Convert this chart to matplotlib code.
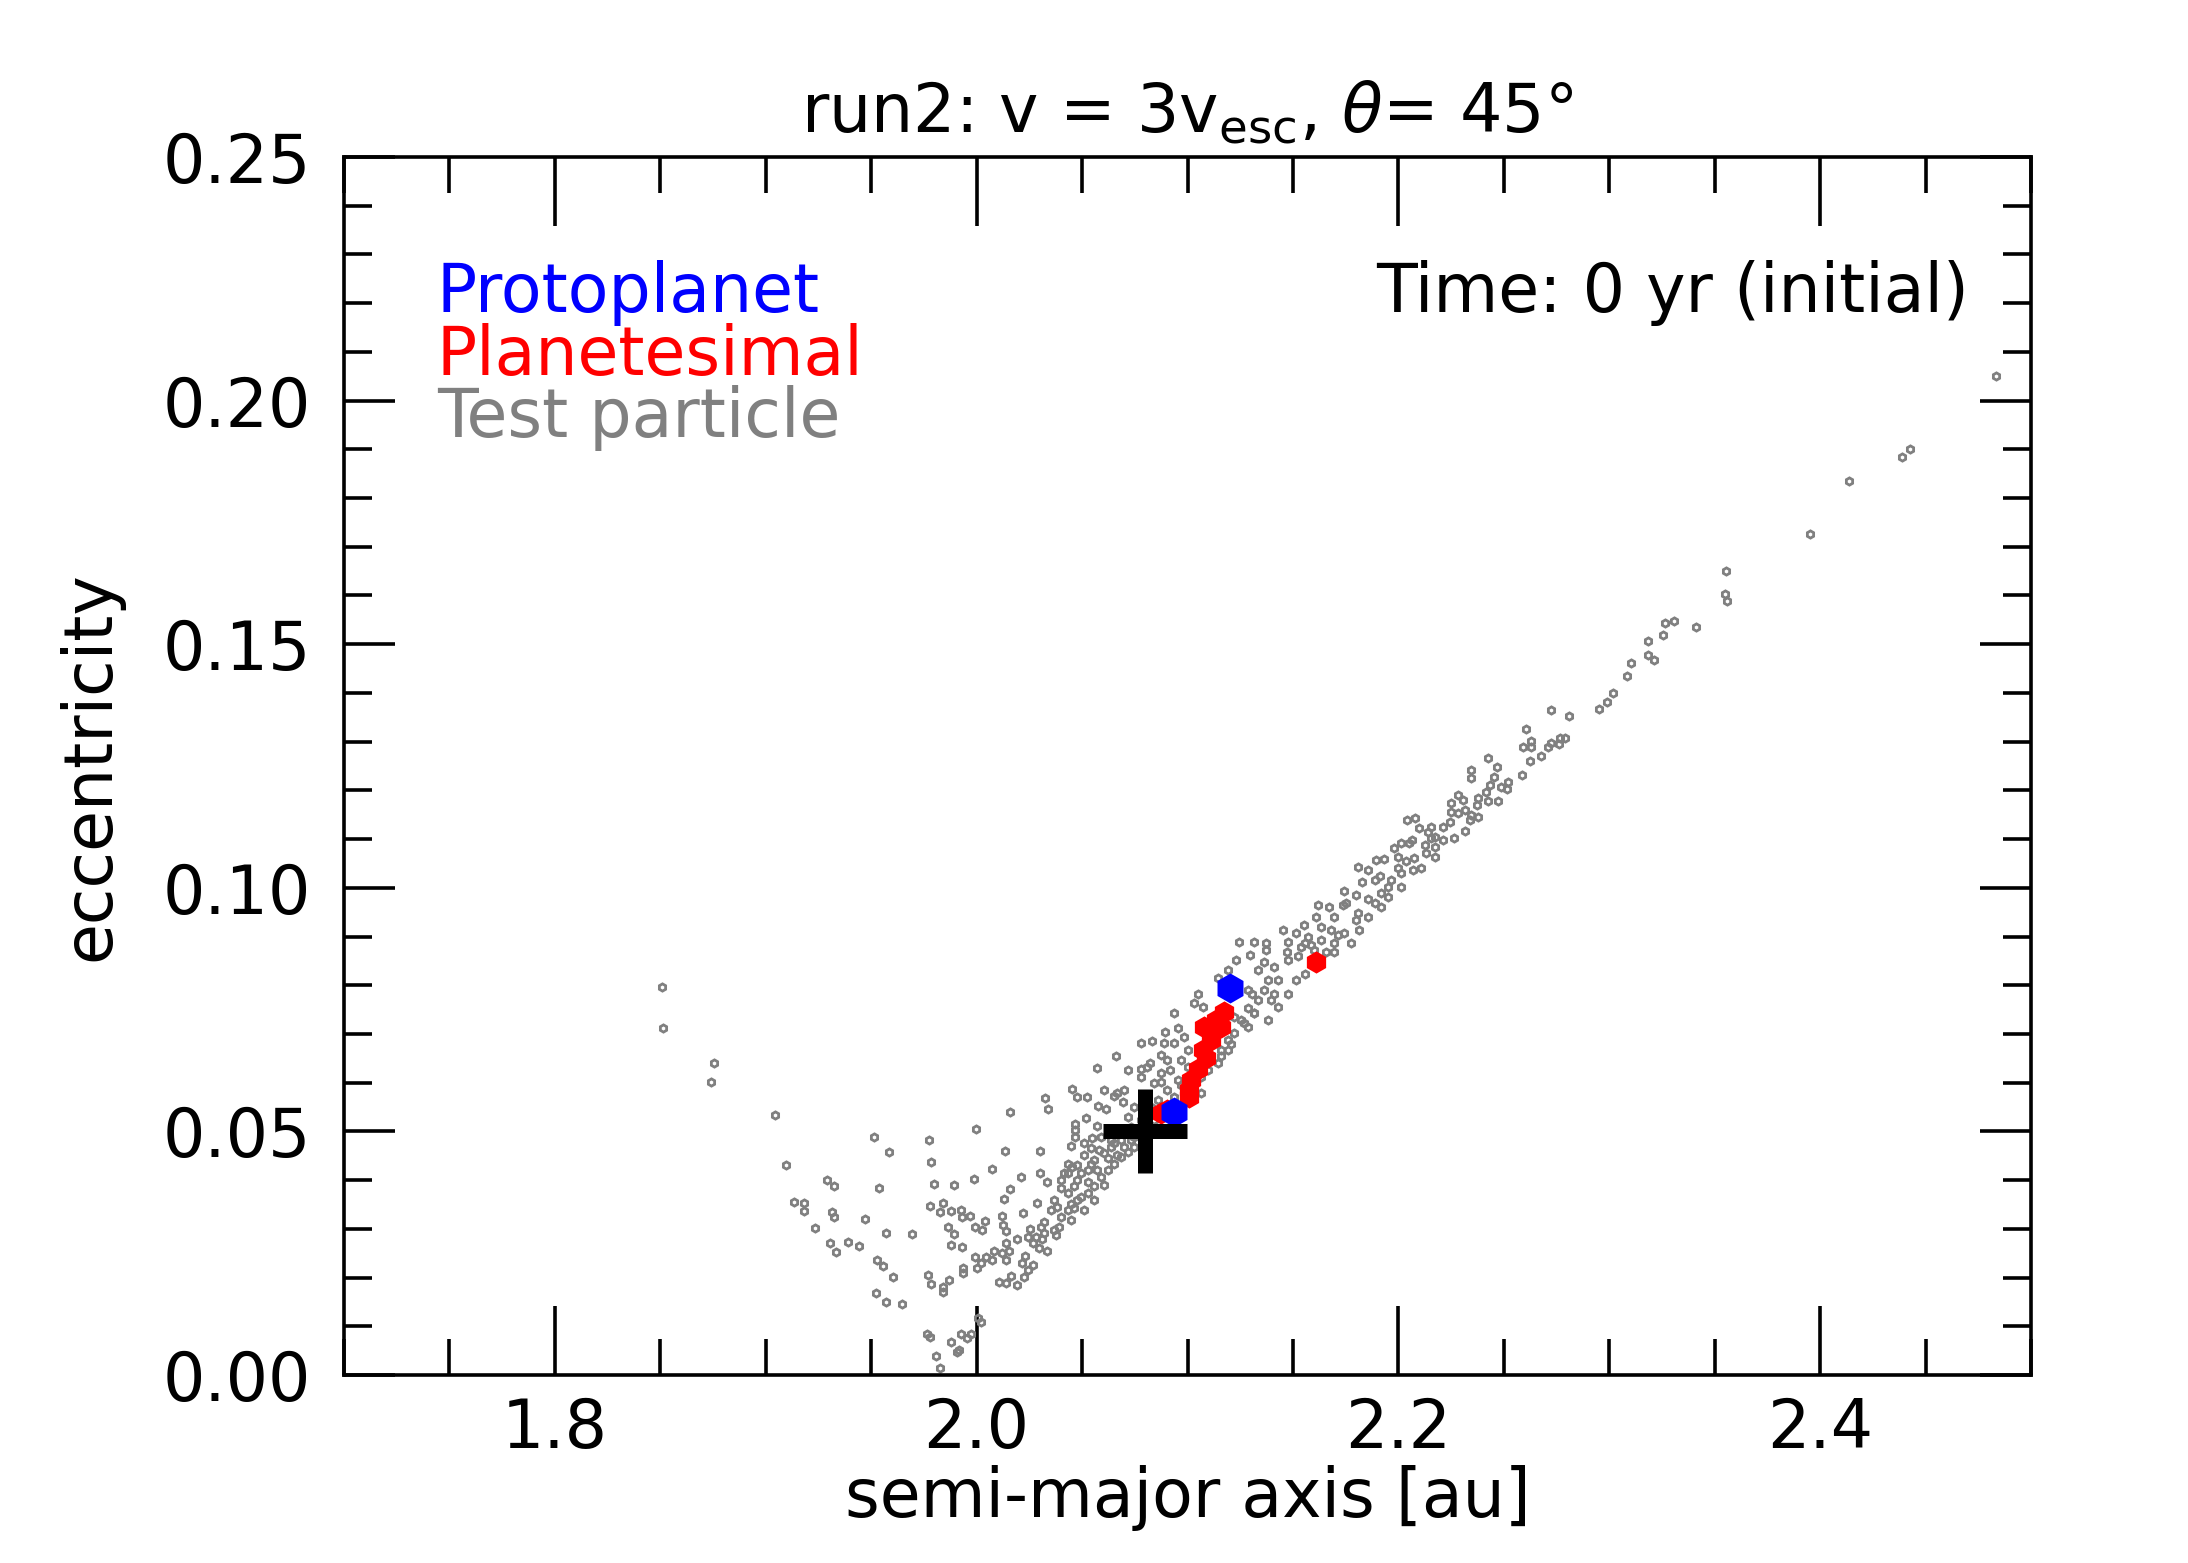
import matplotlib
matplotlib.use('Agg')
import matplotlib.pyplot as plt
from matplotlib.ticker import MultipleLocator, FormatStrFormatter

# test particles: semi-major axis [au], eccentricity
tp_a = [
    1.8510, 1.8515, 1.8753, 1.8738, 1.9042, 1.9095, 1.9512, 1.9584, 1.9774, 1.9786,
    1.9998, 2.0158, 2.0133, 2.0074, 2.0209, 1.9987, 2.0158, 2.0130, 1.9797, 1.9892,
    1.9292, 1.9322, 1.9536, 1.9136, 1.9180, 1.9180, 1.9313, 1.9322, 1.9232, 1.9470,
    1.9569, 1.9695, 1.9303, 1.9335, 1.9389, 1.9441, 1.9528, 1.9557, 1.9603, 1.9522,
    1.9569, 1.9645, 1.9778, 1.9840, 1.9824, 1.9877, 1.9924, 1.9968, 1.9932, 2.0038,
    1.9991, 2.0027, 1.9864, 1.9892, 1.9877, 1.9929, 2.0120, 2.0123, 2.0141, 2.0220,
    2.0285, 2.0253, 2.0190, 2.0245, 2.0280, 2.0269, 2.0296, 2.0139, 2.0153, 2.0122,
    2.0082, 2.0043, 2.0074, 1.9992, 2.0019, 2.0003, 2.0138, 2.0229, 2.0214, 2.0269,
    2.0245, 2.0225, 2.0165, 2.0106, 2.0138, 2.0190, 1.9935, 1.9937, 1.9771, 1.9785,
    1.9870, 1.9840, 1.9841, 2.0006, 2.0022, 1.9763, 1.9778, 1.9877, 1.9924, 1.9972,
    1.9956, 1.9908, 1.9916, 1.9805, 1.9826, 2.0301, 2.0301,
    2.0937, 2.1032, 2.1072, 2.0953, 2.0894, 2.0834, 2.0779, 2.0889, 2.0937, 2.0984,
    2.0661, 2.0874, 2.0905, 2.0823, 2.0718, 2.0570, 2.0779, 2.0918, 2.0779, 2.0874,
    2.0842, 2.0699, 2.0668, 2.0652, 2.0605, 2.0451, 2.0478, 2.0522, 2.0323, 2.0340,
    2.0576, 2.0613, 2.0692, 2.0518, 2.0570, 2.0465, 2.0467, 2.0465, 2.0446, 2.0510,
    2.0549, 2.0589, 2.0716, 2.0747, 2.0541, 2.0581, 2.0636, 2.0668, 2.0716, 2.0510,
    2.0431, 2.0478, 2.0541, 2.0621, 2.0415, 2.0494, 2.0573, 2.0336, 2.0399, 2.0462,
    2.0526, 2.0367, 2.0446, 2.0494, 2.0557, 2.0605, 2.0351, 2.0462, 2.0510, 2.0320,
    2.0446, 2.0391, 2.0375, 2.0312, 2.0336, 2.0747, 2.0668, 2.0636, 2.0747, 2.0732,
    2.0779, 2.0826, 2.0858, 2.0905, 2.0953, 2.1000, 2.1064, 2.1127, 2.1190, 2.1143,
    2.1095, 2.1222, 2.1254, 2.1317, 2.1380, 2.1428, 2.1286, 2.1206, 2.1159, 2.1064,
    2.1016,
    2.0367, 2.0399, 2.0431, 2.0478, 2.0526, 2.0557, 2.0589, 2.0621, 2.0652, 2.0684,
    2.0700, 2.0731, 2.0763, 2.0478, 2.0526, 2.0557, 2.0605, 2.0652, 2.0684, 2.0431,
    2.0383, 2.0320, 2.0304, 2.0431, 2.0454, 2.0399, 2.0810, 2.0842, 2.0874, 2.0937,
    2.0968, 2.1032, 2.1079, 2.1222, 2.1159, 2.1095, 2.1000, 2.0968, 2.0810,
    2.1285, 2.1048, 2.1143, 2.1193, 2.1230, 2.1246, 2.1298, 2.1317, 2.1372, 2.1372,
    2.1361, 2.1333, 2.1285, 2.1304, 2.1380, 2.1412, 2.1452, 2.1475, 2.1470, 2.1515,
    2.1513, 2.1475, 2.1412, 2.1064, 2.0874, 2.1475, 2.1523, 2.1428, 2.1364, 2.1396,
    2.1333, 2.1538, 2.1586, 2.1269, 2.1317, 2.1190, 2.1159,
    2.3018, 2.2987, 2.2950, 2.2726, 2.2808, 2.2607, 2.2627, 2.2630, 2.2591, 2.2624,
    2.2678, 2.2710, 2.2726, 2.2765, 2.2789, 2.2760, 2.2425, 2.2469, 2.2453, 2.2588,
    2.2346, 2.2346, 2.2520, 2.2485, 2.2515, 2.2433, 2.2417, 2.2472, 2.2425, 2.2377,
    2.2374, 2.2285, 2.2308, 2.2251, 2.2251, 2.2314, 2.2283, 2.2346, 2.2377, 2.2338,
    2.2314, 2.2266, 2.2243, 2.2211, 2.2211, 2.2172, 2.2156, 2.2096, 2.2039, 2.2081,
    2.2140, 2.2156, 2.2124, 2.2172, 2.2131, 2.2172, 2.2064, 2.2013, 2.1979, 2.2051,
    2.2000, 2.2034, 2.2076, 2.2069, 2.2108, 2.2000, 2.2013, 2.1895, 2.1930, 2.1808,
    2.1858, 2.1914, 2.1890, 2.1828, 2.1966, 2.1950, 2.2013, 2.1918, 2.1953, 2.1744,
    2.1800, 2.1858, 2.1890, 2.1918, 2.1751, 2.1736, 2.1621, 2.1673, 2.1610, 2.1697,
    2.1808, 2.1858, 2.1800, 2.1744, 2.1551, 2.1634, 2.1681, 2.1815, 2.1776, 2.1697,
    2.1634, 2.1570, 2.1697, 2.1555, 2.1657, 2.1555, 2.1602, 2.1586, 2.1713,
    2.4835, 2.4427, 2.4389, 2.4137, 2.3952, 2.3553, 2.3548, 2.3558, 2.3411, 2.3305,
    2.3264, 2.3253, 2.3185, 2.3211, 2.3185, 2.3102, 2.3083,
]
tp_e = [
    0.0797, 0.0712, 0.0641, 0.0601, 0.0534, 0.0431, 0.0489, 0.0457, 0.0482, 0.0437,
    0.0504, 0.0540, 0.0459, 0.0422, 0.0406, 0.0402, 0.0381, 0.0361, 0.0392, 0.0391,
    0.0401, 0.0388, 0.0384, 0.0355, 0.0353, 0.0337, 0.0335, 0.0324, 0.0302, 0.0320,
    0.0292, 0.0289, 0.0270, 0.0252, 0.0273, 0.0265, 0.0236, 0.0224, 0.0201, 0.0168,
    0.0150, 0.0146, 0.0347, 0.0354, 0.0334, 0.0337, 0.0339, 0.0327, 0.0325, 0.0317,
    0.0304, 0.0298, 0.0304, 0.0289, 0.0267, 0.0262, 0.0327, 0.0308, 0.0296, 0.0333,
    0.0353, 0.0300, 0.0280, 0.0284, 0.0284, 0.0270, 0.0260, 0.0270, 0.0255, 0.0250,
    0.0255, 0.0242, 0.0236, 0.0242, 0.0229, 0.0220, 0.0237, 0.0245, 0.0229, 0.0226,
    0.0216, 0.0202, 0.0204, 0.0190, 0.0188, 0.0184, 0.0219, 0.0210, 0.0205, 0.0186,
    0.0196, 0.0180, 0.0170, 0.0118, 0.0109, 0.0084, 0.0077, 0.0067, 0.0084, 0.0084,
    0.0075, 0.0048, 0.0051, 0.0039, 0.0015, 0.0459, 0.0414,
    0.0744, 0.0763, 0.0755, 0.0713, 0.0703, 0.0686, 0.0682, 0.0682, 0.0682, 0.0694,
    0.0655, 0.0657, 0.0647, 0.0641, 0.0627, 0.0630, 0.0629, 0.0626, 0.0611, 0.0602,
    0.0599, 0.0586, 0.0578, 0.0572, 0.0584, 0.0587, 0.0570, 0.0571, 0.0569, 0.0546,
    0.0552, 0.0545, 0.0561, 0.0527, 0.0512, 0.0515, 0.0503, 0.0488, 0.0470, 0.0476,
    0.0486, 0.0489, 0.0530, 0.0551, 0.0465, 0.0462, 0.0469, 0.0452, 0.0458, 0.0452,
    0.0434, 0.0431, 0.0434, 0.0445, 0.0414, 0.0414, 0.0421, 0.0397, 0.0383, 0.0387,
    0.0397, 0.0359, 0.0352, 0.0366, 0.0359, 0.0390, 0.0339, 0.0342, 0.0339, 0.0315,
    0.0318, 0.0304, 0.0287, 0.0280, 0.0255, 0.0469, 0.0496, 0.0482, 0.0489, 0.0510,
    0.0523, 0.0551, 0.0564, 0.0585, 0.0605, 0.0633, 0.0667, 0.0688, 0.0667, 0.0640,
    0.0626, 0.0701, 0.0729, 0.0742, 0.0729, 0.0756, 0.0715, 0.0680, 0.0654, 0.0612,
    0.0592,
    0.0298, 0.0325, 0.0339, 0.0359, 0.0373, 0.0387, 0.0407, 0.0421, 0.0434, 0.0448,
    0.0469, 0.0482, 0.0496, 0.0400, 0.0421, 0.0441, 0.0455, 0.0476, 0.0482, 0.0373,
    0.0345, 0.0291, 0.0304, 0.0414, 0.0427, 0.0400, 0.0510, 0.0523, 0.0544, 0.0571,
    0.0595, 0.0616, 0.0647, 0.0735, 0.0708, 0.0701, 0.0667, 0.0647, 0.0633,
    0.0753, 0.0783, 0.0814, 0.0831, 0.0852, 0.0889, 0.0862, 0.0889, 0.0886, 0.0872,
    0.0848, 0.0831, 0.0790, 0.0783, 0.0811, 0.0838, 0.0913, 0.0889, 0.0869, 0.0907,
    0.0811, 0.0783, 0.0783, 0.0578, 0.0619, 0.0852, 0.0859, 0.0811, 0.0790, 0.0770,
    0.0770, 0.0879, 0.0883, 0.0722, 0.0742, 0.0688, 0.0667,
    0.1399, 0.1381, 0.1367, 0.1364, 0.1353, 0.1326, 0.1302, 0.1290, 0.1290, 0.1260,
    0.1271, 0.1290, 0.1297, 0.1307, 0.1308, 0.1295, 0.1266, 0.1247, 0.1228, 0.1232,
    0.1242, 0.1225, 0.1218, 0.1206, 0.1203, 0.1211, 0.1197, 0.1179, 0.1178, 0.1184,
    0.1170, 0.1190, 0.1180, 0.1175, 0.1156, 0.1160, 0.1153, 0.1149, 0.1145, 0.1139,
    0.1117, 0.1102, 0.1136, 0.1125, 0.1098, 0.1105, 0.1125, 0.1122, 0.1139, 0.1144,
    0.1115, 0.1102, 0.1088, 0.1084, 0.1071, 0.1064, 0.1098, 0.1091, 0.1081, 0.1091,
    0.1064, 0.1054, 0.1061, 0.1037, 0.1040, 0.1040, 0.1031, 0.1057, 0.1060, 0.1042,
    0.1037, 0.1025, 0.1016, 0.1011, 0.1016, 0.1002, 0.1002, 0.0989, 0.0982, 0.0994,
    0.0985, 0.0978, 0.0968, 0.0961, 0.0968, 0.0965, 0.0965, 0.0961, 0.0941, 0.0941,
    0.0948, 0.0941, 0.0934, 0.0907, 0.0924, 0.0920, 0.0914, 0.0913, 0.0886, 0.0886,
    0.0893, 0.0899, 0.0869, 0.0886, 0.0869, 0.0824, 0.0872, 0.0845, 0.0903,
    0.2051, 0.1901, 0.1884, 0.1836, 0.1726, 0.1651, 0.1603, 0.1589, 0.1535, 0.1548,
    0.1544, 0.1519, 0.1507, 0.1467, 0.1478, 0.1462, 0.1435,
]

# planetesimals
pl_a = [2.0874, 2.0905, 2.1008, 2.1008, 2.1016, 2.1048, 2.1087, 2.1072, 2.1111,
        2.1079, 2.1159, 2.1135, 2.1174, 2.1610]
pl_e = [0.0537, 0.0544, 0.0571, 0.0585, 0.0606, 0.0629, 0.0650, 0.0667, 0.0688,
        0.0715, 0.0715, 0.0729, 0.0746, 0.0848]

# protoplanets
pp_a = [2.0937, 2.1203]
pp_e = [0.0540, 0.0794]

# impact point
imp_a = 2.08
imp_e = 0.05

title = r'run2: v = 3v$_{\rm esc}$, $\theta$= 45°'
time_label = 'Time: 0 yr (initial)'

plt.rcParams['font.family'] = 'DejaVu Sans'
plt.rcParams['mathtext.fontset'] = 'dejavusans'

fig = plt.figure(figsize=(10.94, 7.815), dpi=200)
ax = fig.add_axes([344 / 2188, 188 / 1563, 1687 / 2188, 1218 / 1563])

ax.plot(tp_a, tp_e, 'h', ls='none', ms=2.6, mfc='none', mec='gray', mew=1.0)
ax.plot(pl_a, pl_e, 'h', ls='none', ms=8, color='red', mew=0)
ax.plot(pp_a, pp_e, 'h', ls='none', ms=10.8, color='blue', mew=0)
ax.plot(imp_a, imp_e, '+', color='black', ms=30.5, mew=5.4)

ax.set_xlim(1.7, 2.5)
ax.set_ylim(0.0, 0.25)
ax.xaxis.set_major_locator(MultipleLocator(0.2))
ax.xaxis.set_minor_locator(MultipleLocator(0.05))
ax.yaxis.set_major_locator(MultipleLocator(0.05))
ax.yaxis.set_minor_locator(MultipleLocator(0.01))
ax.xaxis.set_major_formatter(FormatStrFormatter('%.1f'))
ax.yaxis.set_major_formatter(FormatStrFormatter('%.2f'))

ax.tick_params(which='both', direction='in', top=True, right=True, width=1.3, labelsize=24)
ax.xaxis.set_tick_params(which='major', length=25, pad=7.5)
ax.xaxis.set_tick_params(which='minor', length=13)
ax.yaxis.set_tick_params(which='major', length=18.5, pad=12)
ax.yaxis.set_tick_params(which='minor', length=10)
for s in ax.spines.values():
    s.set_linewidth(1.3)

ax.set_xlabel('semi-major axis [au]', fontsize=24, labelpad=1)
ax.set_ylabel('eccentricity', fontsize=24, labelpad=14)
ax.set_title(title, fontsize=24, pad=9)

ax.text(0.055, 0.873, 'Protoplanet', color='blue', fontsize=24, transform=ax.transAxes, va='baseline')
ax.text(0.055, 0.821, 'Planetesimal', color='red', fontsize=24, transform=ax.transAxes, va='baseline')
ax.text(0.055, 0.770, 'Test particle', color='gray', fontsize=24, transform=ax.transAxes, va='baseline')
ax.text(0.963, 0.873, time_label, color='black', fontsize=24, transform=ax.transAxes,
        va='baseline', ha='right')

fig.savefig('out.png', dpi=200)
